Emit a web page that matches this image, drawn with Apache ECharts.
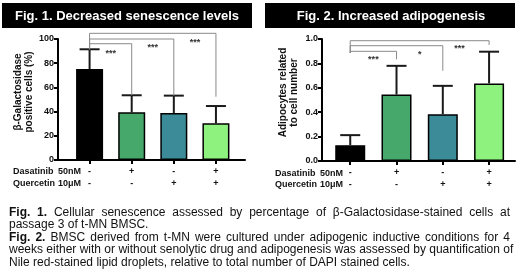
<!DOCTYPE html>
<html>
<head>
<meta charset="utf-8">
<script src="https://cdn.jsdelivr.net/npm/echarts@6/dist/echarts.min.js"></script>
<style>
  body { margin: 0; background: #fff; }
  #wrap { position: relative; width: 520px; height: 274px; }
  #chart { width: 520px; height: 274px; }
  #caption { position: absolute; left: 9px; top: 205.5px; width: 501px;
             font: 12px Arial, "Liberation Sans", sans-serif; line-height: 12.5px; color: #111; }
  #caption div { text-align: justify; text-align-last: justify; white-space: nowrap; }
  #caption div.end { text-align-last: left; }
</style>
</head>
<body>
<div id="wrap">
  <div id="chart"></div>
  <div id="caption">
    <div><b>Fig. 1.</b> Cellular senescence assessed by percentage of β-Galactosidase-stained cells at</div>
    <div class="end">passage 3 of t-MN BMSC.</div>
    <div><b>Fig. 2.</b> BMSC derived from t-MN were cultured under adipogenic inductive conditions for 4</div>
    <div>weeks either with or without senolytic drug and adipogenesis was assessed by quantification of</div>
    <div class="end">Nile red-stained lipid droplets, relative to total number of DAPI stained cells.</div>
  </div>
</div>
<script>
  const FONT = 'Arial, "Liberation Sans", sans-serif';

  // treatment rows under the x axis
  const dasatinib = ['-', '+', '-', '+'];
  const quercetin = ['-', '-', '+', '+'];
  const barColors = ['#000000', '#46a96b', '#3b8b98', '#8ef27f'];

  // Fig 1: beta-Gal positive cells (%)
  const senMean = [75.2, 39.4, 38.8, 30.3];
  const senSD = [16.3, 14.1, 14.4, 14.3];
  // [from, to, level, left end, right end]
  const senBrackets = [[0, 3, 104.7, 91.5, 52.3], [0, 2, 100, 91.5, 53.2], [0, 1, 96.1, 91.5, 53.5]];
  const senStars = [[0.5, 89.5], [1.5, 95], [2.5, 98.6]];
  const senStarText = ['***', '***', '***'];

  // Fig 2: adipocytes related to cell number
  const adiMean = [0.13, 0.545, 0.384, 0.636];
  const adiSD = [0.082, 0.235, 0.232, 0.26];
  const adiBrackets = [[0, 3, 0.986, 0.885, 0.951], [0, 2, 0.945, 0.885, 0.74], [0, 1, 0.899, 0.885, 0.833]];
  const adiStars = [[0.5, 0.85], [1.5, 0.887], [2.36, 0.942]];
  const adiStarText = ['***', '*', '***'];

  const positions = [0, 1, 2, 3];

  const chart = echarts.init(document.getElementById('chart'));

  function errorItem(params, api) {
    const base = api.coord([api.value(0), api.value(1)]);
    const top = api.coord([api.value(0), api.value(2)]);
    const st = { stroke: '#1a1a1a', lineWidth: 2 };
    return {
      type: 'group',
      children: [
        { type: 'line', shape: { x1: base[0], y1: base[1], x2: top[0], y2: top[1] }, style: st },
        { type: 'line', shape: { x1: top[0] - 10, y1: top[1], x2: top[0] + 10, y2: top[1] }, style: st }
      ]
    };
  }

  function bracketItem(params, api) {
    const pts = [
      api.coord([api.value(0), api.value(3)]),
      api.coord([api.value(0), api.value(2)]),
      api.coord([api.value(1), api.value(2)]),
      api.coord([api.value(1), api.value(4)])
    ];
    return { type: 'polyline', shape: { points: pts }, style: { stroke: '#8a8a8a', lineWidth: 1, fill: null } };
  }

  function starItem(texts) {
    return function (params, api) {
      const p = api.coord([api.value(0), api.value(1)]);
      return {
        type: 'text', x: p[0], y: p[1] + 2,
        style: { text: texts[params.dataIndex], fill: '#333', font: 'bold 9px ' + FONT, align: 'center', verticalAlign: 'middle' }
      };
    };
  }

  function xAxisCfg(idx, min, max) {
    return {
      gridIndex: idx, type: 'value', min: min, max: max,
      splitLine: { show: false },
      axisLine: { lineStyle: { color: '#000', width: 2 } },
      axisTick: { customValues: positions, length: 4, lineStyle: { color: '#000', width: 2 } },
      axisLabel: {
        customValues: positions, margin: 6, lineHeight: 11.5,
        fontFamily: FONT, fontWeight: 'bold', fontSize: 9, color: '#111',
        formatter: v => dasatinib[v] + '\n' + quercetin[v]
      }
    };
  }

  function yAxisCfg(idx, max, step, name, fmt) {
    return {
      gridIndex: idx, type: 'value', min: 0, max: max, interval: step,
      splitLine: { show: false },
      axisLine: { show: true, onZero: false, lineStyle: { color: '#000', width: 2 } },
      axisTick: { show: true, length: 4, lineStyle: { color: '#000', width: 2 } },
      axisLabel: { margin: 4, fontFamily: FONT, fontWeight: 'bold', fontSize: 9, color: '#111', formatter: fmt },
      name: name, nameLocation: 'middle', nameGap: 22,
      nameTextStyle: { fontFamily: FONT, fontWeight: 'bold', fontSize: 10, lineHeight: 11, color: '#111', padding: [0, 0, 0, 15] }
    };
  }

  function barData(means) {
    return means.map((m, i) => ({ value: [i, m], itemStyle: { color: barColors[i] } }));
  }

  function labelText(x, y, text, align) {
    return { type: 'text', x: x, y: y, style: { text: text, fill: '#111', font: 'bold 9px ' + FONT, align: align, verticalAlign: 'middle' } };
  }

  chart.setOption({
    animation: false,
    grid: [
      { left: 58, right: 275, top: 39, bottom: 114 },
      { left: 322, right: 5, top: 39, bottom: 113 }
    ],
    xAxis: [xAxisCfg(0, -0.75, 3.69), xAxisCfg(1, -0.61, 3.56)],
    yAxis: [
      yAxisCfg(0, 100, 20, 'β-Galactosidase\npositive cells (%)', v => v),
      yAxisCfg(1, 1, 0.2, 'Adipocytes related\nto cell number', v => v.toFixed(1))
    ],
    graphic: [
      { type: 'rect', shape: { x: 2, y: 3, width: 250, height: 25 }, style: { fill: '#000' } },
      { type: 'text', x: 127, y: 16, style: { text: 'Fig. 1. Decreased senescence levels', fill: '#fff', font: 'bold 13px ' + FONT, align: 'center', verticalAlign: 'middle' } },
      { type: 'rect', shape: { x: 265, y: 3, width: 250, height: 25 }, style: { fill: '#000' } },
      { type: 'text', x: 391, y: 16, style: { text: 'Fig. 2. Increased adipogenesis', fill: '#fff', font: 'bold 13px ' + FONT, align: 'center', verticalAlign: 'middle' } },
      labelText(13, 172, 'Dasatinib', 'left'),
      labelText(81, 172, '50nM', 'right'),
      labelText(13, 183.5, 'Quercetin', 'left'),
      labelText(81, 183.5, '10μM', 'right'),
      labelText(275, 173.5, 'Dasatinib', 'left'),
      labelText(343, 173.5, '50nM', 'right'),
      labelText(275, 184.5, 'Quercetin', 'left'),
      labelText(343, 184.5, '10μM', 'right')
    ],
    series: [
      {
        type: 'bar', xAxisIndex: 0, yAxisIndex: 0, barWidth: 27,
        itemStyle: { borderColor: '#000', borderWidth: 1.5 },
        data: barData(senMean)
      },
      {
        type: 'custom', xAxisIndex: 0, yAxisIndex: 0, renderItem: errorItem,
        encode: { x: 0, y: 2 }, data: senMean.map((m, i) => [i, m, m + senSD[i]])
      },
      {
        type: 'custom', xAxisIndex: 0, yAxisIndex: 0, renderItem: bracketItem,
        encode: { x: [0, 1], y: 2 }, data: senBrackets
      },
      {
        type: 'custom', xAxisIndex: 0, yAxisIndex: 0, renderItem: starItem(senStarText),
        encode: { x: 0, y: 1 }, data: senStars
      },
      {
        type: 'bar', xAxisIndex: 1, yAxisIndex: 1, barWidth: 30,
        itemStyle: { borderColor: '#000', borderWidth: 1.5 },
        data: barData(adiMean)
      },
      {
        type: 'custom', xAxisIndex: 1, yAxisIndex: 1, renderItem: errorItem,
        encode: { x: 0, y: 2 }, data: adiMean.map((m, i) => [i, m, m + adiSD[i]])
      },
      {
        type: 'custom', xAxisIndex: 1, yAxisIndex: 1, renderItem: bracketItem,
        encode: { x: [0, 1], y: 2 }, data: adiBrackets
      },
      {
        type: 'custom', xAxisIndex: 1, yAxisIndex: 1, renderItem: starItem(adiStarText),
        encode: { x: 0, y: 1 }, data: adiStars
      }
    ]
  });
</script>
</body>
</html>
